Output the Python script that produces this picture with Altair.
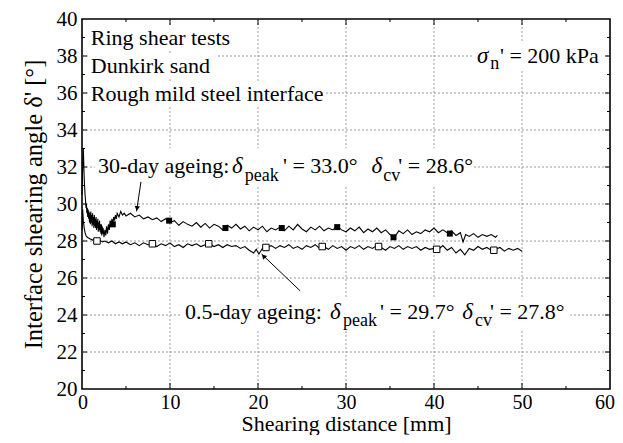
import altair as alt
import pandas as pd

FONT = "Liberation Serif"
W, H = 528, 370

# ---------------- data ----------------
# 30-day ageing curve
x30 = [0.00, 0.10, 0.15, 0.20, 0.25, 0.30, 0.35, 0.40, 0.45, 0.50, 0.55, 0.60, 0.65,
       0.70, 0.75, 0.80, 0.85, 0.90, 0.95, 1.00, 1.05, 1.10, 1.15, 1.20, 1.25, 1.30, 1.35, 1.40,
       1.45, 1.50, 1.55, 1.60, 1.65, 1.70, 1.75, 1.80, 1.85, 1.90, 1.95, 2.00, 2.05, 2.10, 2.15,
       2.20, 2.25, 2.30, 2.35, 2.40, 2.50, 2.60, 2.70, 2.80, 2.90, 3.00, 3.10, 3.20, 3.30, 3.40,
       3.50, 3.60, 3.70, 3.80, 3.90, 4.00, 4.20, 4.40, 4.60, 4.80,
       5.0, 5.5, 6.0, 6.5, 7.0, 7.5, 8.0, 8.5, 9.0, 9.5, 10.0, 10.5, 11.0, 11.5, 12.0, 12.5,
       13.0, 13.5, 14.0, 14.5, 15.0, 15.5, 16.0, 16.5, 17.0, 17.5, 18.0, 18.5, 19.0, 19.5,
       20.0, 20.5, 21.0, 21.5, 22.0, 22.5, 23.0, 23.5, 24.0, 24.5, 25.0, 25.5, 26.0, 26.5,
       27.0, 27.5, 28.0, 28.5, 29.0, 29.5, 30.0, 30.5, 31.0, 31.5, 32.0, 32.5, 33.0, 33.5,
       34.0, 34.5, 35.0, 35.5, 36.0, 36.5, 37.0, 37.5, 38.0, 38.5, 39.0, 39.5, 40.0, 40.5,
       41.0, 41.5, 42.0, 42.5, 43.0, 43.3, 43.6, 44.0, 44.5, 45.0, 45.5, 46.0, 46.5, 47.0, 47.2]
y30 = [30.5, 32.5, 33.0, 32.2, 31.4, 30.9, 30.5, 30.2, 29.8, 30.0, 29.5, 29.8, 29.3,
       29.7, 29.2, 29.6, 29.0, 29.5, 28.9, 29.6, 29.0, 29.4, 28.8, 29.5, 28.9, 29.3, 28.7, 29.4,
       28.8, 29.2, 28.7, 29.3, 28.6, 29.1, 28.7, 29.2, 28.5, 29.0, 28.6, 29.1, 28.5, 28.9, 28.4,
       28.9, 28.3, 28.8, 28.4, 28.7, 28.2, 28.6, 28.3, 28.8, 28.4, 28.9, 28.6, 29.1, 28.8, 29.2,
       28.9, 29.3, 29.1, 29.4, 29.2, 29.5, 29.3, 29.6, 29.4, 29.5,
       29.35, 29.5, 29.3, 29.4, 29.2, 29.3, 29.15, 29.25, 29.05, 29.2, 29.0, 29.1, 28.85, 29.05, 28.9, 28.8,
       29.0, 28.75, 28.95, 28.7, 28.9, 28.8, 28.6, 28.85, 28.7, 28.9, 28.65, 28.8, 28.55, 28.75,
       28.6, 28.8, 28.5, 28.7, 28.6, 28.75, 28.55, 28.8, 28.6, 28.9, 28.65, 28.5, 28.75, 28.6,
       28.8, 28.55, 28.7, 28.6, 28.8, 28.6, 28.5, 28.7, 28.55, 28.75, 28.45, 28.65, 28.5, 28.7,
       28.45, 28.6, 28.35, 28.2, 28.55, 28.4, 28.6, 28.35, 28.5, 28.4, 28.6, 28.5, 28.7, 28.45,
       28.6, 28.45, 28.55, 28.3, 28.45, 27.95, 28.35, 28.25, 28.4, 28.2, 28.35, 28.25, 28.35, 28.2, 28.3]
sq30_x = [3.5, 9.9, 16.3, 22.7, 29.0, 35.4, 41.8]
sq30_y = [28.9, 29.1, 28.7, 28.7, 28.75, 28.2, 28.4]

# 0.5-day ageing curve
x05 = [0.00, 0.08, 0.15, 0.25, 0.35, 0.45, 0.60, 0.80, 1.00, 1.20, 1.40, 1.70, 2.0, 2.3, 2.6,
       3.0, 3.4, 3.8, 4.2, 4.6, 5.0, 5.5, 6.0, 6.5, 7.0, 7.5, 8.0, 8.5, 9.0, 9.5, 10.0, 10.5,
       11.0, 11.5, 12.0, 12.5, 13.0, 13.5, 14.0, 14.5, 15.0, 15.5, 16.0, 16.5, 17.0, 17.5,
       18.0, 18.5, 19.0, 19.5, 19.8, 20.1, 20.5, 21.0, 21.5, 22.0, 22.5, 23.0, 23.5, 24.0,
       24.5, 25.0, 25.5, 26.0, 26.5, 27.0, 27.5, 28.0, 28.5, 29.0, 29.5, 30.0, 30.5, 31.0,
       31.5, 32.0, 32.5, 33.0, 33.5, 34.0, 34.5, 35.0, 35.5, 36.0, 36.5, 37.0, 37.5, 38.0,
       38.5, 39.0, 39.5, 40.0, 40.5, 41.0, 41.5, 42.0, 42.5, 43.0, 43.5, 44.0, 44.5, 45.0,
       45.5, 46.0, 46.5, 47.0, 47.5, 48.0, 48.5, 49.0, 49.5, 50.0]
y05 = [28.6, 29.7, 29.1, 28.7, 28.45, 28.3, 28.2, 28.15, 28.1, 28.05, 28.1, 28.0, 28.05, 27.95, 28.0,
       27.9, 28.0, 27.85, 27.95, 27.85, 27.95, 27.8, 27.9, 27.75, 27.9, 27.8, 27.85, 27.7, 27.85, 27.75, 27.9, 27.7,
       27.8, 27.65, 27.85, 27.75, 27.85, 27.7, 27.8, 27.85, 27.7, 27.8, 27.65, 27.8, 27.7, 27.75,
       27.6, 27.7, 27.5, 27.35, 27.55, 27.3, 27.6, 27.65, 27.75, 27.6, 27.75, 27.65, 27.8, 27.6,
       27.7, 27.55, 27.75, 27.65, 27.8, 27.6, 27.7, 27.55, 27.75, 27.6, 27.7, 27.5, 27.7, 27.6,
       27.75, 27.55, 27.7, 27.6, 27.75, 27.65, 27.5, 27.7, 27.6, 27.75, 27.55, 27.7, 27.6, 27.7,
       27.5, 27.65, 27.55, 27.6, 27.55, 27.75, 27.5, 27.65, 27.35, 27.55, 27.25, 27.6, 27.5, 27.7,
       27.55, 27.65, 27.5, 27.55, 27.65, 27.45, 27.6, 27.5, 27.6, 27.45]
sq05_x = [1.7, 8.0, 14.4, 20.9, 27.3, 33.7, 40.3, 46.8]
sq05_y = [28.0, 27.85, 27.85, 27.65, 27.7, 27.7, 27.55, 27.5]

x_ticks = [0, 10, 20, 30, 40, 50, 60]
y_ticks = [20, 22, 24, 26, 28, 30, 32, 34, 36, 38, 40]
x_major_in = [10, 20, 30, 40, 50]
x_minor_in = [5, 15, 25, 35, 45, 55]
y_major_in = [22, 24, 26, 28, 30, 32, 34, 36, 38]
y_minor_in = [21, 23, 25, 27, 29, 31, 33, 35, 37, 39]

# annotation texts (regular, italic symbol, subscript)
reg_text = ["Ring shear tests", "Dunkirk sand", "Rough mild steel interface", "' = 200 kPa",
            "30-day ageing:", "' = 33.0°", "' = 28.6°",
            "0.5-day ageing:", "' = 29.7°", "' = 27.8°"]
reg_x = [1.0, 1.0, 1.0, 47.5, 1.82, 22.84, 35.94, 11.7, 33.86, 46.36]
reg_y = [38.59, 37.08, 35.56, 37.62, 31.65, 31.65, 31.65, 23.81, 23.81, 23.81]
ital_text = ["σ", "δ", "δ", "δ", "δ"]
ital_x = [44.9, 17.05, 32.9, 28.18, 43.2]
ital_y = [37.62, 31.65, 31.65, 23.81, 23.81]
sub_text = ["n", "peak", "cv", "peak", "cv"]
sub_x = [46.4, 18.5, 34.24, 29.66, 44.66]
sub_y = [37.29, 31.23, 31.23, 23.38, 23.38]

# white boxes behind annotation texts (x1, x2, y1, y2)
box_x1 = [0.8, 0.8, 0.8, 44.55, 1.48, 11.3]
box_x2 = [17.7, 15.2, 27.6, 59.5, 44.3, 55.5]
box_y1 = [39.62, 38.1, 36.6, 38.75, 33.02, 24.9]
box_y2 = [38.27, 36.75, 35.24, 37.24, 30.96, 23.16]

# arrows (tail -> tip) and arrowhead centres / angles
arr_x1 = [6.7, 24.8]
arr_y1 = [31.2, 25.3]
arr_x2 = [6.2, 20.4]
arr_y2 = [29.6, 27.3]
head_x = [6.25, 20.63]
head_y = [29.76, 27.18]
head_a = [8, 137]

# ---------------- chart ----------------
xs = alt.Scale(domain=[0, 60], nice=False, zero=False)
ys = alt.Scale(domain=[20, 40], nice=False, zero=False)

x_axis = alt.Axis(values=x_ticks, grid=False, ticks=False, tickSize=0, domain=False,
                  labelFont=FONT, labelFontSize=20, labelColor="black", labelPadding=3,
                  labelFlush=True, labelFlushOffset=4.5,
                  titleFont=FONT, titleFontSize=22, titleFontWeight="normal",
                  titleColor="black", titlePadding=1)
y_axis = alt.Axis(values=y_ticks, grid=False, ticks=False, tickSize=0, domain=False,
                  labelFont=FONT, labelFontSize=21, labelColor="black", labelPadding=5,
                  labelFlush=False, titleFont=FONT, titleFontSize=24.5, titleFontWeight="normal",
                  titleColor="black", titlePadding=10)
X_TITLE = "Shearing distance [mm]"
Y_TITLE = "Interface shearing angle δ' [°]"


def X(f):
    return alt.X(f, scale=xs, axis=x_axis, title=X_TITLE)


def Y(f):
    return alt.Y(f, scale=ys, axis=y_axis, title=Y_TITLE)


GRID = dict(color="#9a9a9a", strokeWidth=1, strokeDash=[2, 2])
vgrid = alt.Chart(pd.DataFrame({"v": x_major_in})).mark_rule(**GRID).encode(
    x=X("v:Q"), y=alt.value(0), y2=alt.value(H))
hgrid = alt.Chart(pd.DataFrame({"v": y_major_in})).mark_rule(**GRID).encode(
    y=Y("v:Q"), x=alt.value(0), x2=alt.value(W))

d30 = pd.DataFrame({"x": x30, "y": y30})
d05 = pd.DataFrame({"x": x05, "y": y05})

boxes = alt.Chart(pd.DataFrame({"x1": box_x1, "x2": box_x2, "y1": box_y1, "y2": box_y2})).mark_rect(
    color="white").encode(x=X("x1:Q"), x2="x2:Q", y=Y("y1:Q"), y2="y2:Q")

line30 = alt.Chart(d30).mark_line(color="black", strokeWidth=1.1).encode(x=X("x:Q"), y=Y("y:Q"))
line05 = alt.Chart(d05).mark_line(color="black", strokeWidth=1.1).encode(x=X("x:Q"), y=Y("y:Q"))

pts30 = alt.Chart(pd.DataFrame({"x": sq30_x, "y": sq30_y})).mark_point(
    shape="square", filled=True, color="black", size=36, opacity=1).encode(x=X("x:Q"), y=Y("y:Q"))
pts05 = alt.Chart(pd.DataFrame({"x": sq05_x, "y": sq05_y})).mark_point(
    shape="square", filled=True, fill="white", stroke="black", strokeWidth=1, size=42, opacity=1).encode(
    x=X("x:Q"), y=Y("y:Q"))


def rules(vals, orient, length):
    df = pd.DataFrame({"v": vals})
    m = alt.Chart(df).mark_rule(color="black", strokeWidth=1)
    if orient == "bottom":
        return m.encode(x=X("v:Q"), y=alt.value(H), y2=alt.value(H - length))
    if orient == "top":
        return m.encode(x=X("v:Q"), y=alt.value(0), y2=alt.value(length))
    if orient == "left":
        return m.encode(y=Y("v:Q"), x=alt.value(0), x2=alt.value(length))
    return m.encode(y=Y("v:Q"), x=alt.value(W), x2=alt.value(W - length))


tick_layers = [rules(x_major_in, "bottom", 6), rules(x_minor_in, "bottom", 3),
               rules(x_major_in, "top", 6), rules(x_minor_in, "top", 3),
               rules(y_major_in, "left", 5), rules(y_minor_in, "left", 3),
               rules(y_major_in, "right", 5), rules(y_minor_in, "right", 3)]

arrows = alt.Chart(pd.DataFrame({"x1": arr_x1, "y1": arr_y1, "x2": arr_x2, "y2": arr_y2})).mark_rule(
    color="black", strokeWidth=1).encode(x=X("x1:Q"), y=Y("y1:Q"), x2="x2:Q", y2="y2:Q")
heads = alt.Chart(pd.DataFrame({"x": head_x, "y": head_y, "a": head_a})).mark_point(
    shape="triangle-down", filled=True, color="black", size=30, opacity=1).encode(
    x=X("x:Q"), y=Y("y:Q"), angle=alt.Angle("a:Q", scale=None))

reg = alt.Chart(pd.DataFrame({"t": reg_text, "x": reg_x, "y": reg_y})).mark_text(
    align="left", baseline="alphabetic", font=FONT, fontSize=22, color="black").encode(
    x=X("x:Q"), y=Y("y:Q"), text="t:N")
ital = alt.Chart(pd.DataFrame({"t": ital_text, "x": ital_x, "y": ital_y})).mark_text(
    align="left", baseline="alphabetic", font=FONT, fontSize=23, fontStyle="italic", color="black").encode(
    x=X("x:Q"), y=Y("y:Q"), text="t:N")
sub = alt.Chart(pd.DataFrame({"t": sub_text, "x": sub_x, "y": sub_y})).mark_text(
    align="left", baseline="alphabetic", font=FONT, fontSize=18, color="black").encode(
    x=X("x:Q"), y=Y("y:Q"), text="t:N")

chart = alt.layer(vgrid, hgrid, boxes, line30, line05, pts30, pts05, *tick_layers, arrows, heads,
                  reg, ital, sub).properties(
    width=W, height=H,
    background="white",
    autosize=alt.AutoSizeParams(type="none"),
    padding={"left": 74, "top": 11, "right": 5, "bottom": 46},
).configure_view(stroke="black", strokeWidth=1.6)

chart.save("out.html", embed_options={"renderer": "svg", "actions": False})
